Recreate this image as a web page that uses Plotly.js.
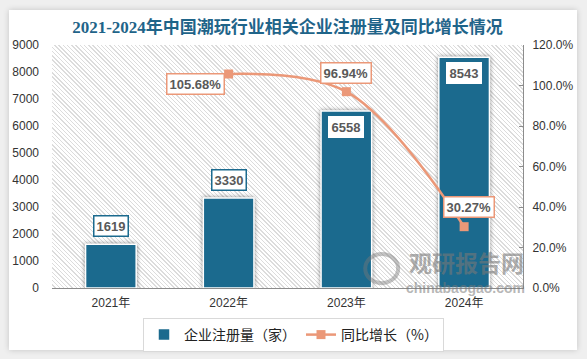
<!DOCTYPE html>
<html>
<head>
<meta charset="utf-8">
<script src="https://cdn.plot.ly/plotly-3.0.1.min.js"></script>
<style>
  html, body { margin:0; padding:0; background:#efefef; width:587px; height:359px; overflow:hidden; }
  #card { position:absolute; left:9px; top:10px; width:568px; height:340px; background:#fff; box-shadow:0 0 6px rgba(0,0,0,0.18); }
  #hatch { position:absolute; left:52px; top:45px; width:471px; height:243px;
    background: repeating-linear-gradient(45deg, #ffffff 0px, #ffffff 2px, #dcdcdc 2px, #dcdcdc 3px); }
  #chart { position:absolute; left:0; top:0; width:587px; height:359px; }
  #chart .bars path { filter: drop-shadow(0px 0px 2px rgba(0,0,0,0.45)); }
</style>
</head>
<body>
<div id="card"></div>
<div id="hatch"></div>
<div id="chart"></div>
<script>
// ---- data ----
const years = ['2021年', '2022年', '2023年', '2024年'];
const registrations = [1619, 3330, 6558, 8543];
const growth = [null, 105.68, 96.94, 30.27];
const leftTicks = [0, 1000, 2000, 3000, 4000, 5000, 6000, 7000, 8000, 9000];
const rightTicks = [0, 20, 40, 60, 80, 100, 120];
const rightTickText = rightTicks.map(v => v.toFixed(1) + '%');

// ---- styles ----
const barColor = '#1b6a8e';
const lineColor = '#eb9878';
const labelFont = {family: 'Liberation Sans, Arial, sans-serif', size: 13, color: '#595959', weight: 'bold'};
const tickFont = {family: 'Liberation Sans, "Noto Sans CJK SC", sans-serif', size: 12, color: '#333333'};
const lineLabelOffsets = [null, {x: -33, y: -10}, {x: 0, y: 19}, {x: 5, y: 20}];

const traces = [
  {
    type: 'bar', name: '企业注册量（家）', x: years, y: registrations,
    marker: {color: barColor, line: {color: '#ffffff', width: 1.5}},
    hoverinfo: 'skip'
  },
  {
    type: 'scatter', mode: 'lines+markers', name: '同比增长（%）', x: years, y: growth, yaxis: 'y2',
    line: {color: lineColor, width: 2.5, shape: 'spline', smoothing: 1},
    marker: {symbol: 'square', size: 9, color: lineColor},
    connectgaps: false, hoverinfo: 'skip'
  }
];

const annotations = [];
registrations.forEach((v, i) => {
  const inside = v > 5000;
  annotations.push({
    x: years[i], y: v, xref: 'x', yref: 'y', text: String(v), showarrow: false,
    yshift: inside ? -16 : 18, font: labelFont, bgcolor: '#ffffff',
    bordercolor: inside ? '#ffffff' : barColor, borderwidth: 1.5, borderpad: 2
  });
});
growth.forEach((v, i) => {
  if (v === null) return;
  const off = lineLabelOffsets[i];
  annotations.push({
    x: years[i], y: v, xref: 'x', yref: 'y2', text: v.toFixed(2) + '%', showarrow: false,
    xshift: off.x, yshift: off.y, font: labelFont, bgcolor: '#ffffff',
    bordercolor: lineColor, borderwidth: 1.5, borderpad: 2
  });
});
// watermark
annotations.push({
  xref: 'paper', yref: 'paper', x: 0.881, y: 0.108, xanchor: 'center', yanchor: 'middle',
  text: '观研报告网', showarrow: false,
  font: {family: '"Noto Sans CJK SC", sans-serif', size: 23, color: 'rgba(120,120,120,0.6)', weight: 'bold'}
});
annotations.push({
  xref: 'paper', yref: 'paper', x: 0.877, y: 0.0, xanchor: 'center', yanchor: 'middle',
  text: 'chinabaogao.com', showarrow: false,
  font: {family: 'Liberation Sans, Arial, sans-serif', size: 14, color: 'rgba(120,120,120,0.55)', weight: 'bold'}
});

const layout = {
  width: 587, height: 359,
  margin: {l: 52, r: 64, t: 45, b: 71},
  paper_bgcolor: 'rgba(0,0,0,0)', plot_bgcolor: 'rgba(0,0,0,0)',
  title: {
    text: '2021-2024年中国潮玩行业相关企业注册量及同比增长情况',
    font: {family: 'Liberation Serif, "Noto Sans CJK SC", serif', size: 17, color: '#1f6489', weight: 'bold'},
    x: 0.5, xref: 'paper', y: 0.925, yref: 'container', yanchor: 'middle'
  },
  bargap: 0.57,
  xaxis: {
    type: 'category', showline: true, linecolor: '#8c8c8c', linewidth: 1,
    showgrid: false, zeroline: false, ticks: '', tickfont: tickFont, ticklabelstandoff: 4
  },
  yaxis: {
    range: [0, 9000], tickvals: leftTicks, showgrid: false, showline: false, zeroline: false,
    tickfont: tickFont, ticks: '', ticklabelstandoff: 12
  },
  yaxis2: {
    overlaying: 'y', side: 'right', range: [0, 120], tickvals: rightTicks, ticktext: rightTickText,
    showgrid: false, zeroline: false,
    showline: true, linecolor: '#8c8c8c', linewidth: 1,
    ticks: 'inside', ticklen: 4, tickcolor: '#8c8c8c', tickfont: tickFont, ticklabelstandoff: 6
  },
  legend: {
    orientation: 'h', xref: 'container', yref: 'container', x: 0.5, xanchor: 'center',
    y: 1 - 318 / 359, yanchor: 'top', bordercolor: '#d9d9d9', borderwidth: 1, bgcolor: '#ffffff',
    font: {family: '"Noto Sans CJK SC", sans-serif', size: 14, color: '#222222'},
    itemwidth: 30, tracegroupgap: 0
  },
  annotations: annotations,
  shapes: [
    {type: 'circle', xref: 'paper', yref: 'paper', x0: 0.665, x1: 0.735, y0: 0.02, y1: 0.14,
     line: {color: 'rgba(120,120,120,0.45)', width: 4}, layer: 'above'}
  ]
};

Plotly.newPlot('chart', traces, layout, {displayModeBar: false, staticPlot: true});
</script>
</body>
</html>
